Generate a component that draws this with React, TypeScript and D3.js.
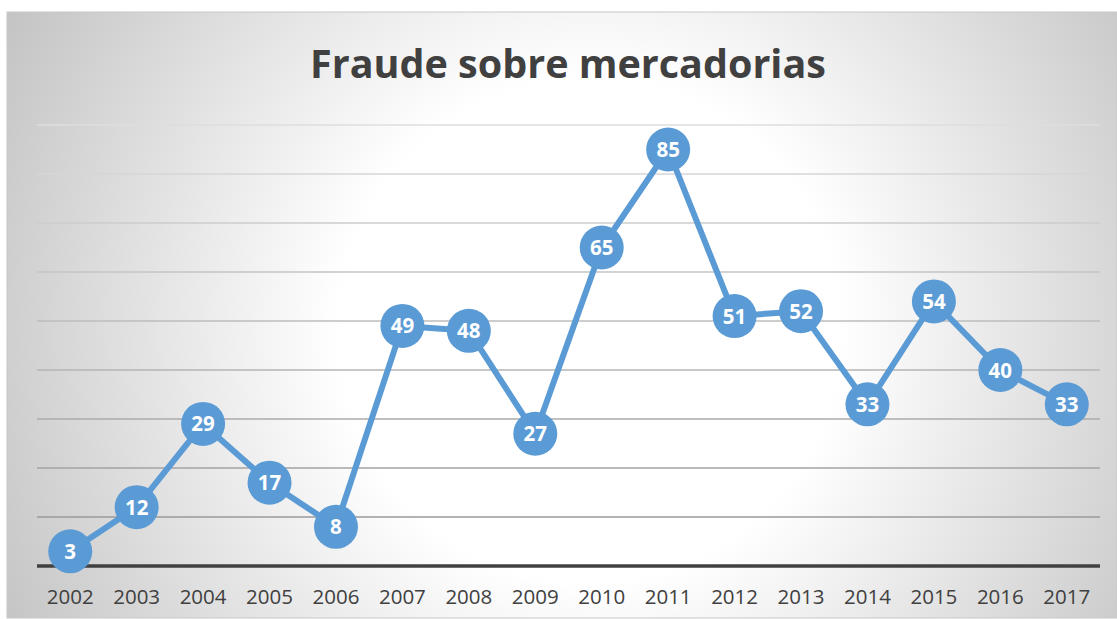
import React from "react";
import * as d3 from "d3";

const years = ["2002","2003","2004","2005","2006","2007","2008","2009","2010","2011","2012","2013","2014","2015","2016","2017"];
const values = [3,12,29,17,8,49,48,27,65,85,51,52,33,54,40,33];
const gridTicks = [10,20,30,40,50,60,70,80,90];
const title = "Fraude sobre mercadorias";

export default function App() {
  const W = 1117, H = 619;
  const left = 37, right = 1100, top = 125, bottom = 566;
  const x = d3.scaleBand<string>().domain(years).range([left, right]).padding(0);
  const y = d3.scaleLinear().domain([0, 90]).range([bottom, top]);
  const line = d3.line<number>()
    .x((_, i) => (x(years[i]) as number) + x.bandwidth() / 2)
    .y((d) => y(d));
  const gridColor = d3.scaleLinear<string>().domain([90, 10]).range(["#dedede", "#9a9a9a"]);
  return (
    <svg width={W} height={H} style={{ position: "absolute", left: 0, top: 0 }}>
      <defs>
        <radialGradient id="bg" cx={590} cy={330} r={660} gradientUnits="userSpaceOnUse">
          <stop offset="0" stopColor="#ffffff" />
          <stop offset="0.38" stopColor="#ffffff" />
          <stop offset="1" stopColor="#c4c4c4" />
        </radialGradient>
      </defs>
      <rect x={7} y={12} width={W - 7} height={606} fill="url(#bg)" stroke="#c8c8c8" strokeWidth={1} />
      <text x={568} y={78} textAnchor="middle" fontFamily="'Open Sans', sans-serif" fontWeight={700} fontSize={39.5} fill="#404040">{title}</text>
      {gridTicks.map((t) => (
        <line key={t} x1={left} x2={right} y1={y(t)} y2={y(t)} stroke={gridColor(t)} strokeWidth={1.5} />
      ))}
      <line x1={left} x2={right} y1={y(0)} y2={y(0)} stroke="#404040" strokeWidth={3.5} />
      {years.map((yr) => (
        <text key={yr} x={(x(yr) as number) + x.bandwidth() / 2} y={604} textAnchor="middle" fontFamily="'Open Sans', sans-serif" fontSize={20.5} fill="#404040">{yr}</text>
      ))}
      <path d={line(values) as string} fill="none" stroke="#5B9BD5" strokeWidth={6} strokeLinejoin="round" />
      {values.map((v, i) => {
        const cx = (x(years[i]) as number) + x.bandwidth() / 2;
        const cy = y(v);
        return (
          <g key={i}>
            <circle cx={cx} cy={cy} r={22} fill="#5B9BD5" />
            <text x={cx} y={cy + 7.5} textAnchor="middle" fontFamily="'Open Sans', sans-serif" fontWeight={700} fontSize={20.5} fill="#ffffff">{v}</text>
          </g>
        );
      })}
    </svg>
  );
}
